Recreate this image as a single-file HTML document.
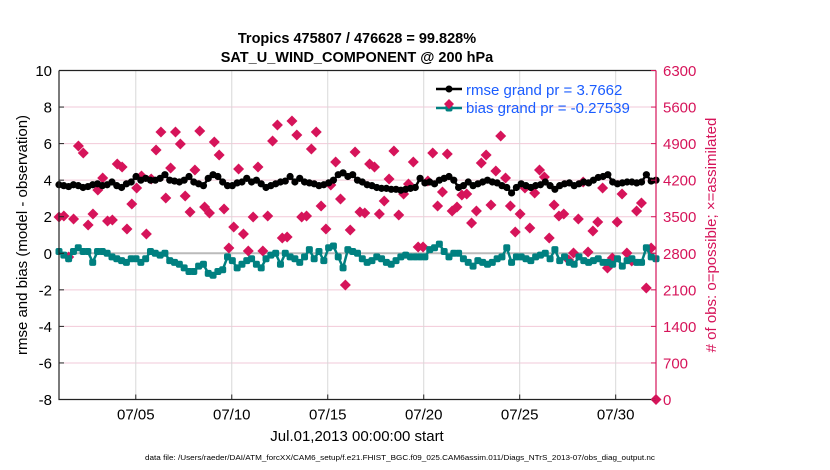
<!DOCTYPE html>
<html><head><meta charset="utf-8"><style>
html,body{margin:0;padding:0;background:#fff;}
svg{display:block;font-family:"Liberation Sans",sans-serif;}
</style></head><body>
<svg id="chart" width="830" height="470" viewBox="0 0 830 470">
<text x="357" y="43" text-anchor="middle" font-size="14.5" font-weight="bold">Tropics 475807 / 476628 = 99.828%</text>
<text x="357" y="62" text-anchor="middle" font-size="14.5" font-weight="bold">SAT_U_WIND_COMPONENT @ 200 hPa</text>
<g id="grid"></g><g id="marks"></g><g id="axes"></g>
<text transform="translate(27,235) rotate(-90)" text-anchor="middle" font-size="15">rmse and bias (model - observation)</text>
<text transform="translate(716,235) rotate(-90)" text-anchor="middle" font-size="15" fill="#d6145a"># of obs: o=possible; ×=assimilated</text>
<text x="357" y="441" text-anchor="middle" font-size="15">Jul.01,2013 00:00:00 start</text>
<text x="400" y="460" text-anchor="middle" font-size="7.5" textLength="510" lengthAdjust="spacingAndGlyphs">data file: /Users/raeder/DAI/ATM_forcXX/CAM6_setup/f.e21.FHIST_BGC.f09_025.CAM6assim.011/Diags_NTrS_2013-07/obs_diag_output.nc</text>
<g>
<line x1="436" y1="89" x2="462" y2="89" stroke="#000" stroke-width="2.5"/>
<circle cx="449" cy="89" r="3.5" fill="#000"/>
<text x="466" y="95" font-size="15" fill="#1a5cff">rmse grand pr = 3.7662</text>
<line x1="436" y1="108" x2="462" y2="108" stroke="#008080" stroke-width="2.5"/>
<rect x="445.5" y="104.5" width="7" height="7" rx="2" fill="#008080"/>
<path d="M449,99 L454,104 L449,109 L444,104Z" fill="#d6145a"/>
<text x="466" y="113" font-size="15" fill="#1a5cff">bias grand pr = -0.27539</text>
</g>
</svg>
<script>
const xTickLabels=["07/05","07/10","07/15","07/20","07/25","07/30"];
const xTickDays=[4,9,14,19,24,29];
const yTicks=[-8,-6,-4,-2,0,2,4,6,8,10];
const y2Ticks=[0,700,1400,2100,2800,3500,4200,4900,5600,6300];
const rmse=[3.75,3.7,3.65,3.75,3.7,3.6,3.65,3.75,3.8,3.7,3.75,3.9,3.7,3.6,3.8,3.9,4.2,4.0,4.1,4.0,4.0,4.1,4.3,4.0,3.95,3.9,4.0,4.2,3.9,3.8,3.7,4.1,4.3,4.2,3.9,3.7,3.7,3.85,3.9,4.1,3.9,4.0,3.8,3.6,3.7,3.8,3.9,3.95,4.2,3.9,4.1,3.9,3.85,3.8,3.7,3.75,3.85,4.0,4.3,4.4,4.2,4.3,4.0,3.9,3.75,3.7,3.6,3.55,3.55,3.5,3.5,3.45,3.5,3.55,3.6,4.1,3.85,3.9,3.8,4.0,4.1,4.2,4.0,3.6,3.7,3.9,3.7,3.8,3.9,4.0,3.9,3.85,3.7,3.6,3.3,3.6,3.8,3.7,3.6,3.7,3.75,3.9,3.7,3.5,3.7,3.8,3.85,3.7,3.8,3.9,3.85,4.0,4.15,4.2,4.3,3.9,3.8,3.85,3.9,3.9,3.85,3.9,4.3,3.95,4.0];
const bias=[0.1,-0.1,-0.3,0.1,0.3,0.1,0.1,-0.5,0.1,0.1,0.0,-0.2,-0.3,-0.4,-0.5,-0.3,-0.3,-0.5,-0.3,0.1,0.0,-0.1,0.0,-0.4,-0.5,-0.6,-0.8,-1.0,-1.0,-0.7,-0.6,-1.1,-1.2,-1.0,-0.9,-0.2,-0.4,-0.8,-0.6,-0.4,-0.3,-0.6,-0.8,-0.3,-0.1,0.0,-0.6,0.0,-0.2,-0.3,-0.5,-0.2,0.2,-0.3,0.1,-0.4,0.3,0.4,-0.2,-0.8,0.2,0.1,0.0,-0.3,-0.5,-0.4,-0.2,-0.3,-0.5,-0.6,-0.4,-0.2,-0.1,-0.2,-0.2,-0.2,-0.2,0.2,0.3,0.5,0.1,-0.2,0.0,0.0,-0.3,-0.5,-0.7,-0.4,-0.5,-0.6,-0.5,-0.3,-0.2,0.3,-0.5,-0.2,-0.2,-0.3,-0.4,-0.2,-0.1,0.0,-0.3,0.2,-0.4,-0.2,-0.5,-0.6,-0.2,-0.4,-0.5,-0.4,-0.3,-0.5,-0.5,-0.6,-0.3,-0.7,-0.4,-0.3,-0.5,-0.5,0.3,-0.2,-0.3];
const obsCount=[3494,3513,2729,3456,4854,4720,3341,3552,4011,4241,3418,3437,4509,4452,3265,3743,4050,4280,3169,4222,4777,5122,3858,4433,5122,4892,3897,3591,4394,5141,3686,3571,4930,4681,3648,2901,3303,4413,3169,2844,3494,4452,2844,3513,4949,5256,3092,3112,5333,5064,3494,3513,4797,5122,3705,3265,4107,4547,3839,2193,3246,4739,3591,3571,4509,4452,3552,3801,4222,4758,3533,3935,4126,4547,2921,2921,4184,4720,3705,3974,4701,3610,3686,3916,3935,3380,3610,4528,4681,3724,4375,5045,4241,3705,3208,3552,4050,3284,3954,4394,4260,3092,3724,3513,3552,2671,2805,3456,4165,2825,3227,3399,4050,2518,2710,3399,3935,2805,2652,3610,3763,2135,2901,0];
const X0=59,X1=656,Y0=70.5,Y1=399.5,DMAX=31.1;
const xs=d=>X0+(d/DMAX)*(X1-X0);
const ys=v=>Y1-(v+8)/18*(Y1-Y0);
const ys2=c=>Y1-c/6300*(Y1-Y0);
const NS="http://www.w3.org/2000/svg";
function mk(tag,attrs,parent){const e=document.createElementNS(NS,tag);for(const k in attrs)e.setAttribute(k,attrs[k]);parent.appendChild(e);return e;}
const grid=document.getElementById('grid'),marks=document.getElementById('marks'),axes=document.getElementById('axes');
yTicks.forEach(v=>{if(v>-8&&v<10){const l=mk('line',{x1:X0,x2:X1,y1:ys(v),y2:ys(v),stroke:'#f2c9d8','stroke-width':1},grid);

}});
xTickDays.forEach(d=>{const l=mk('line',{x1:xs(d),x2:xs(d),y1:Y0,y2:Y1,stroke:'#d8d8d8','stroke-width':1},grid);

});
const zl=mk('line',{x1:X0,x2:X1,y1:ys(0),y2:ys(0),stroke:'#bbb','stroke-width':2},grid);


function tAt(i,n){return i*DMAX/(n-1);}
function series(arr,color,name,square){
 const pts=arr.map((v,i)=>xs(tAt(i,arr.length))+','+ys(v)).join(' ');
 const pl=mk('polyline',{points:pts,fill:'none',stroke:color,'stroke-width':2.5,'stroke-linejoin':'round'},marks);
 
 
 arr.forEach((v,i)=>{let m;const cx=xs(tAt(i,arr.length)),cy=ys(v);
  if(square)m=mk('rect',{x:cx-3.5,y:cy-3.5,width:7,height:7,rx:2,fill:color},marks);
  else m=mk('circle',{cx:cx,cy:cy,r:3.6,fill:color},marks);
  
  });
}
obsCount.forEach((c,i)=>{const cx=xs(tAt(i,obsCount.length)),cy=ys2(c);
 const p=mk('path',{d:`M${cx},${cy-5.5} L${cx+5.5},${cy} L${cx},${cy+5.5} L${cx-5.5},${cy}Z`,fill:'#d6145a'},marks);
 
 });
series(bias,'#008080','bias',true);
series(rmse,'#000000','rmse',false);
const fr=mk('path',{d:`M${X0},${Y0} H${X1} M${X0},${Y0} V${Y1} H${X1}`,fill:'none',stroke:'#222','stroke-width':1.2},axes);


const ra=mk('line',{x1:X1,x2:X1,y1:Y0,y2:Y1,stroke:'#d6145a','stroke-width':1.2},axes);


yTicks.forEach(v=>{mk('line',{x1:X0,x2:X0+5,y1:ys(v),y2:ys(v),stroke:'#222'},axes);
 const t=mk('text',{x:X0-7,y:ys(v)+5.5,'text-anchor':'end','font-size':15},axes);t.textContent=v;
 
 });
y2Ticks.forEach(c=>{mk('line',{x1:X1-5,x2:X1,y1:ys2(c),y2:ys2(c),stroke:'#d6145a'},axes);
 const t=mk('text',{x:X1+7,y:ys2(c)+5.5,'font-size':15,fill:'#d6145a'},axes);t.textContent=c;
 
 });
xTickDays.forEach((d,i)=>{mk('line',{x1:xs(d),x2:xs(d),y1:Y1,y2:Y1-5,stroke:'#222'},axes);
 const t=mk('text',{x:xs(d),y:Y1+20,'text-anchor':'middle','font-size':15},axes);t.textContent=xTickLabels[i];
 
 });
</script>
</body></html>
